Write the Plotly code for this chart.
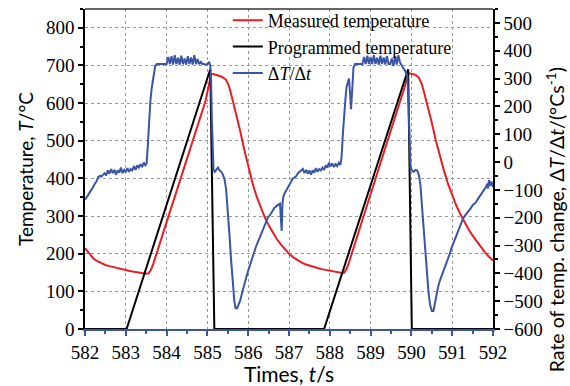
import plotly.graph_objects as go

# ---------------- data ----------------
meas_t = [582.00, 582.10, 582.20, 582.30, 582.40, 582.50, 582.60, 582.70, 582.80, 582.90,
          583.00, 583.10, 583.20, 583.30, 583.40, 583.50, 583.56, 583.62, 583.68, 583.74,
          583.80, 583.90, 584.00, 584.20, 584.40, 584.60, 584.80, 584.95, 585.02, 585.06,
          585.09, 585.15, 585.25, 585.35, 585.45, 585.52, 585.58, 585.65, 585.72, 585.80,
          585.90, 586.00, 586.10, 586.20, 586.30, 586.40, 586.50, 586.60, 586.70, 586.80,
          586.90, 587.00, 587.10, 587.20, 587.30, 587.40, 587.50, 587.60, 587.70, 587.80,
          587.90, 588.00, 588.10, 588.20, 588.30, 588.36, 588.42, 588.48, 588.55, 588.65,
          588.80, 589.00, 589.20, 589.40, 589.60, 589.75, 589.84, 589.89, 589.93, 590.00,
          590.10, 590.18, 590.25, 590.32, 590.40, 590.50, 590.60, 590.70, 590.80, 590.90,
          591.00, 591.10, 591.20, 591.30, 591.40, 591.50, 591.60, 591.70, 591.80, 591.90,
          592.00]
meas_T = [215, 200, 188, 180, 174, 170, 167, 164, 161, 158,
          156, 154, 152, 150, 148, 147, 148, 158, 175, 196,
          218, 250, 284, 351, 418, 486, 553, 604, 640, 665,
          676, 677, 674, 670, 663, 648, 625, 595, 565, 528,
          478, 430, 390, 354, 323, 298, 276, 256, 239, 225,
          212, 200, 191, 183, 177, 172, 168, 165, 162, 159,
          157, 155, 153, 150, 149, 150, 162, 180, 205, 240,
          290, 358, 425, 493, 560, 610, 645, 668, 679, 678,
          675, 668, 652, 625, 592, 548, 500, 458, 420, 385,
          355, 328, 305, 284, 265, 248, 233, 218, 204, 192,
          182]

prog_t = [582.00, 583.02, 585.07, 585.17, 587.86, 589.92, 590.01, 592.00]
prog_T = [0, 0, 690, 0, 0, 690, 0, 0]

rate_t = [582.00, 582.04, 582.08, 582.12, 582.16, 582.20, 582.24, 582.28, 582.32, 582.36,
          582.40, 582.44, 582.48, 582.52, 582.56, 582.60, 582.64, 582.68, 582.72, 582.76,
          582.80, 582.84, 582.88, 582.92, 582.96, 583.00, 583.04, 583.08, 583.12, 583.16,
          583.20, 583.24, 583.28, 583.32, 583.36, 583.40, 583.44, 583.48, 583.51, 583.54,
          583.57, 583.60, 583.63, 583.66, 583.69, 583.72, 583.76, 583.80, 584.00, 584.04,
          584.08, 584.12, 584.16, 584.20, 584.24, 584.28, 584.32, 584.36, 584.40, 584.44,
          584.48, 584.52, 584.56, 584.60, 584.64, 584.68, 584.72, 584.76, 584.80, 584.84,
          584.88, 584.92, 584.96, 585.00, 585.04, 585.07, 585.09, 585.11, 585.13, 585.15,
          585.18, 585.22, 585.26, 585.30, 585.34, 585.38, 585.42, 585.46, 585.50, 585.54,
          585.58, 585.62, 585.66, 585.69, 585.73, 585.77, 585.80, 585.85, 585.92, 586.00,
          586.10, 586.20, 586.30, 586.40, 586.48, 586.56, 586.64, 586.72, 586.78, 586.80,
          586.82, 586.84, 586.86, 586.90, 586.94, 586.98, 587.02, 587.06, 587.10, 587.14,
          587.18, 587.22, 587.26, 587.30, 587.34, 587.38, 587.42, 587.46, 587.50, 587.54,
          587.58, 587.62, 587.66, 587.70, 587.74, 587.78, 587.82, 587.86, 587.90, 587.94,
          587.98, 588.02, 588.06, 588.10, 588.14, 588.18, 588.22, 588.26, 588.29, 588.32,
          588.35, 588.38, 588.41, 588.44, 588.47, 588.50, 588.52, 588.55, 588.58, 588.62,
          588.66, 588.80, 588.84, 588.88, 588.92, 588.96, 589.00, 589.04, 589.08, 589.12,
          589.16, 589.20, 589.24, 589.28, 589.32, 589.36, 589.40, 589.44, 589.48, 589.52,
          589.56, 589.60, 589.64, 589.68, 589.72, 589.76, 589.80, 589.85, 589.90, 589.93,
          589.96, 589.98, 590.02, 590.06, 590.10, 590.14, 590.18, 590.22, 590.26, 590.30,
          590.34, 590.38, 590.42, 590.46, 590.50, 590.54, 590.58, 590.62, 590.66, 590.70,
          590.74, 590.78, 590.82, 590.86, 590.90, 590.94, 590.98, 591.02, 591.06, 591.10,
          591.14, 591.18, 591.22, 591.26, 591.30, 591.34, 591.38, 591.42, 591.46, 591.50,
          591.54, 591.58, 591.62, 591.66, 591.70, 591.74, 591.78, 591.82, 591.86, 591.88,
          591.90, 591.93, 591.96, 592.00]
rate_v = [-135, -128, -118, -108, -100, -90, -78, -70, -55, -50,
          -52, -45, -40, -48, -30, -42, -25, -40, -28, -45,
          -30, -38, -20, -40, -28, -36, -22, -35, -25, -30,
          -15, -28, -12, -20, -8, -18, -2, -12, -5, 60,
          150, 215, 260, 295, 325, 345, 352, 352, 352, 378,
          352, 380, 350, 384, 352, 375, 350, 382, 352, 372,
          350, 380, 352, 376, 350, 384, 352, 370, 352, 360,
          352, 352, 350, 352, 360, 345, 300, 150, 20, -25,
          -35, -28, -20, -30, -35, -45, -62, -100, -170, -260,
          -350, -430, -500, -525, -525, -510, -500, -470, -430, -390,
          -345, -300, -265, -225, -200, -185, -165, -155, -150, -200,
          -248, -150, -125, -110, -100, -88, -75, -65, -58, -55,
          -50, -40, -35, -30, -25, -40, -28, -42, -30, -45,
          -30, -38, -22, -35, -25, -30, -20, -28, -12, -20,
          -2, -15, -5, -18, -8, -15, -3, -10, 20, 100,
          180, 220, 270, 290, 300, 240, 190, 260, 340, 352,
          352, 352, 378, 352, 382, 352, 378, 352, 384, 352,
          375, 350, 382, 352, 376, 350, 380, 352, 352, 372,
          345, 380, 350, 384, 358, 345, 338, 326, 310, 200,
          60, -20, -30, -35, -28, -30, -45, -80, -160, -240,
          -320, -400, -470, -515, -535, -535, -505, -470, -445, -425,
          -410, -395, -375, -360, -345, -330, -310, -295, -275, -258,
          -245, -230, -220, -205, -195, -188, -178, -170, -165, -155,
          -150, -145, -135, -125, -118, -110, -100, -92, -78, -95,
          -65, -85, -70, -90]

x_range = [582, 592]
left_range = [0, 850]
right_range = [-600, 550]
left_ticks = [0, 100, 200, 300, 400, 500, 600, 700, 800]
right_ticks = [-600, -500, -400, -300, -200, -100, 0, 100, 200, 300, 400, 500]
x_ticks = [582, 583, 584, 585, 586, 587, 588, 589, 590, 591, 592]

# ---------------- figure ----------------
RED = "#ec1c24"
BLUE = "#3a55a8"
SERIF = "Liberation Serif, Times New Roman, serif"
SANS = "Lato, Open Sans, sans-serif"
TICK = dict(family=SERIF, size=19, color="black")

fig = go.Figure()
fig.add_trace(go.Scatter(x=meas_t, y=meas_T, mode="lines", name="Measured temperature",
                         line=dict(color=RED, width=2)))
fig.add_trace(go.Scatter(x=prog_t, y=prog_T, mode="lines", name="Programmed temperature",
                         line=dict(color="black", width=2)))
fig.add_trace(go.Scatter(x=rate_t, y=rate_v, mode="lines", name="Δ<i>T</i>/Δ<i>t</i>",
                         line=dict(color=BLUE, width=2), yaxis="y2"))

fig.update_layout(
    width=570, height=386,
    margin=dict(l=85, r=77, t=9, b=57, autoexpand=False),
    paper_bgcolor="white", plot_bgcolor="white",
    font=dict(family=SERIF, size=19, color="black"),
    showlegend=True,
    legend=dict(x=0.35, y=1.022, xanchor="left", yanchor="top",
                bgcolor="rgba(0,0,0,0)", borderwidth=0,
                font=dict(family=SERIF, size=18, color="black"),
                tracegroupgap=0),
    xaxis=dict(range=x_range, tickvals=x_ticks, showgrid=True,
               gridcolor="#999999", griddash="dot", gridwidth=1,
               showline=True, linecolor=BLUE, linewidth=1.5,
               ticks="outside", ticklen=5, tickcolor=BLUE, tickwidth=1.5,
               minor=dict(dtick=0.5, ticks="outside", ticklen=3, tickcolor=BLUE, showgrid=False),
               tickfont=TICK, automargin=False,
               title=dict(text="Times, <i>t</i>/s", font=dict(family=SANS, size=21, color="black"),
                          standoff=4),
               zeroline=False, layer="below traces"),
    yaxis=dict(range=left_range, tickvals=left_ticks, showgrid=True,
               gridcolor="#999999", griddash="dot", gridwidth=1,
               showline=True, linecolor="black", linewidth=1.5,
               ticks="outside", ticklen=5, tickcolor="black", tickwidth=1.5,
               minor=dict(dtick=50, ticks="outside", ticklen=3, tickcolor="black", showgrid=False),
               tickfont=TICK, automargin=False,
               title=dict(text="Temperature, <i>T</i>/°C", font=dict(family=SANS, size=19, color="black"),
                          standoff=7),
               zeroline=False),
    yaxis2=dict(range=right_range, tickvals=right_ticks, overlaying="y", side="right",
                showgrid=False, showline=True, linecolor="black", linewidth=1.5,
                ticks="outside", ticklen=5, tickcolor="black", tickwidth=1.5,
                minor=dict(dtick=50, ticks="outside", ticklen=3, tickcolor="black"),
                tickfont=TICK, automargin=False,
                zeroline=False),
    shapes=[dict(type="line", xref="paper", yref="paper", x0=0, x1=1, y0=1, y1=1,
                 line=dict(color="#333333", width=1.5))],
    annotations=[dict(text="Rate of temp. change, Δ<i>T</i>/Δ<i>t</i>/(°Cs<sup>-1</sup>)",
                      xref="paper", yref="paper", x=1.152, y=0.34, xanchor="center", yanchor="middle",
                      textangle=-90, showarrow=False,
                      font=dict(family=SANS, size=19.5, color="black"))],
)

fig.write_html("out.html")
